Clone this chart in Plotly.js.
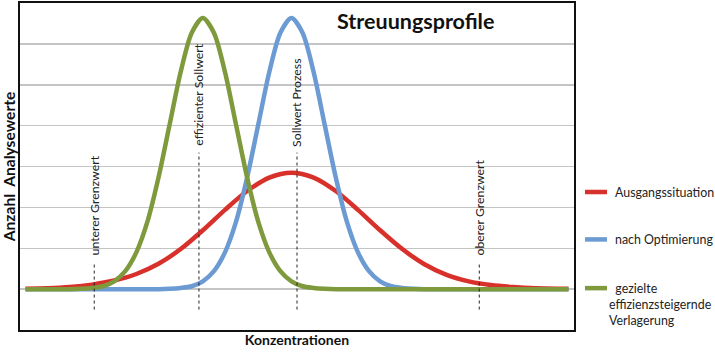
<!DOCTYPE html>
<html>
<head>
<meta charset="utf-8">
<script src="https://cdn.plot.ly/plotly-3.0.1.min.js"></script>
<style>html,body{margin:0;padding:0;background:#fff;}#chart{width:715px;height:353px;}</style>
</head>
<body>
<div id="chart"></div>
<script>
// Ausgangssituation (red)
const xRed = [1, 5, 9, 13, 17, 21, 25, 29, 33, 37, 41, 45, 49, 53, 57, 61, 65, 69, 73, 77, 81, 85, 89, 93, 97, 99];
const yRed = [0.01, 0.02, 0.05, 0.11, 0.21, 0.37, 0.62, 0.98, 1.44, 1.94, 2.40, 2.73, 2.85, 2.73, 2.40, 1.94, 1.44, 0.98, 0.61, 0.35, 0.19, 0.10, 0.05, 0.02, 0.01, 0.01];
// nach Optimierung (blue)
const xBlue = [1, 10, 20, 25, 27, 29, 31, 33, 35, 37, 39, 41, 43, 45, 47, 49, 51, 53, 55, 57, 59, 61, 63, 65, 67, 69, 71, 73, 80, 90, 99];
const yBlue = [0, 0, 0, 0, 0.01, 0.03, 0.07, 0.19, 0.44, 0.90, 1.65, 2.73, 4.02, 5.31, 6.27, 6.63, 6.27, 5.31, 4.02, 2.73, 1.65, 0.90, 0.44, 0.19, 0.07, 0.03, 0.01, 0, 0, 0, 0];
// gezielte effizienzsteigernde Verlagerung (green)
const xGreen = [1, 5, 9, 11, 13, 15, 17, 19, 21, 23, 25, 27, 29, 31, 33, 35, 37, 39, 41, 43, 45, 47, 49, 51, 53, 55, 57, 61, 70, 80, 90, 99];
const yGreen = [0, 0, 0, 0.01, 0.03, 0.07, 0.19, 0.44, 0.90, 1.65, 2.73, 4.02, 5.31, 6.27, 6.63, 6.27, 5.31, 4.02, 2.73, 1.65, 0.90, 0.44, 0.19, 0.07, 0.03, 0.01, 0, 0, 0, 0, 0, 0];

const seriesNames = ['Ausgangssituation', 'nach Optimierung', '\u00a0\u00a0gezielte<br>effizienzsteigernde<br>Verlagerung'];

// reference markers
const markerLabels = ['unterer Grenzwert', 'effizienter Sollwert', 'Sollwert Prozess', 'oberer Grenzwert'];
const markerX = [13.4, 32.3, 50.0, 82.9];
const markerTop = [0.63, 3.34, 3.34, 0.63];
const markerLabelBase = [0.78, 3.46, 3.43, 0.78];
const markerBottom = -0.5;

const colors = ['#d8302a', '#6b9bd2', '#7f9a3d'];
const FONT = 'Lato, "Open Sans", sans-serif';

const traces = [
  {x: xRed, y: yRed, name: seriesNames[0]},
  {x: xBlue, y: yBlue, name: seriesNames[1]},
  {x: xGreen, y: yGreen, name: seriesNames[2]}
].map((t, i) => Object.assign(t, {
  type: 'scatter', mode: 'lines',
  line: {color: colors[i], width: 4.5, shape: 'spline', smoothing: 0.8},
  showlegend: false, hoverinfo: 'skip'
}));

const shapes = markerX.map((x, i) => ({
  type: 'line', xref: 'x', yref: 'y', x0: x, x1: x, y0: markerBottom, y1: markerTop[i],
  line: {color: '#222', width: 1, dash: 'dot'}, layer: 'above'
}));

const annotations = markerLabels.map((t, i) => ({
  text: t, x: markerX[i], y: markerLabelBase[i], xref: 'x', yref: 'y',
  textangle: -90, showarrow: false, xanchor: 'center', yanchor: 'bottom',
  font: {family: FONT, size: 12.3, color: '#222'}
}));
annotations.push({
  text: '<b>Streuungsprofile</b>', xref: 'paper', yref: 'paper', x: 0.568, y: 0.99,
  xanchor: 'left', yanchor: 'top', showarrow: false,
  font: {family: FONT, size: 21.5, color: '#111'}
});

// legend (drawn beside the plot area, in paper coordinates)
const legendY = [0.422, 0.277, 0.128];
seriesNames.forEach((name, i) => {
  shapes.push({
    type: 'line', xref: 'paper', yref: 'paper', x0: 1.0199, x1: 1.0596, y0: legendY[i], y1: legendY[i],
    line: {color: colors[i], width: 4.5}
  });
  annotations.push({
    text: name, xref: 'paper', yref: 'paper',
    x: i < 2 ? 1.0704 : 1.0596, y: i < 2 ? legendY[i] : legendY[i] + 0.028,
    xanchor: 'left', yanchor: i < 2 ? 'middle' : 'top', align: 'left', showarrow: false,
    font: {family: FONT, size: 12.4, color: '#222'}
  });
});

const layout = {
  width: 715, height: 353,
  margin: {l: 20, r: 141, t: 3, b: 23, autoexpand: false},
  paper_bgcolor: '#fff', plot_bgcolor: '#fff',
  showlegend: false,
  xaxis: {
    range: [0, 100], showgrid: false, zeroline: false, showticklabels: false, ticks: '',
    showline: true, mirror: true, linecolor: '#111', linewidth: 2,
    title: {text: '<b>Konzentrationen</b>', standoff: 4, font: {family: FONT, size: 14, color: '#111'}},
    automargin: false
  },
  yaxis: {
    range: [-1, 7], tick0: 0, dtick: 1, showgrid: true, gridcolor: '#c4c4c4', gridwidth: 1.5,
    zeroline: false, showticklabels: false, ticks: '',
    showline: true, mirror: true, linecolor: '#111', linewidth: 2,
    title: {text: '<b>Anzahl  Analysewerte</b>', standoff: 1, font: {family: FONT, size: 15.6, color: '#111'}},
    automargin: false
  },
  shapes: shapes,
  annotations: annotations
};

Plotly.newPlot('chart', traces, layout, {displayModeBar: false, staticPlot: true});
</script>
</body>
</html>
